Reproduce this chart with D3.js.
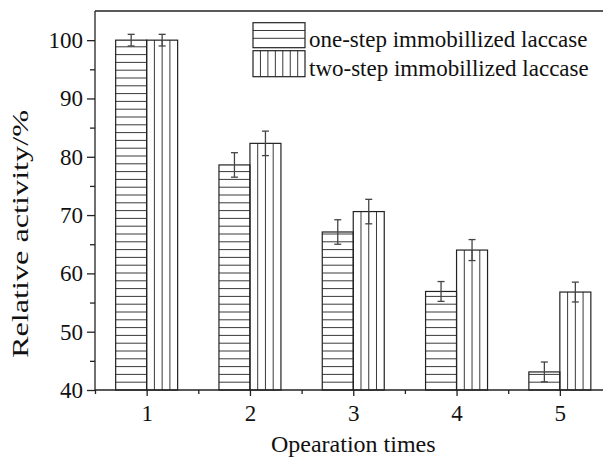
<!DOCTYPE html>
<html>
<head>
<meta charset="utf-8">
<script src="https://cdn.jsdelivr.net/npm/d3@7"></script>
<style>
  body { margin: 0; background: #fff; }
  svg text { font-family: "Liberation Serif", "Times New Roman", serif; fill: #111; }
</style>
</head>
<body>
<div id="chart"></div>
<script>
// data
const times = [1, 2, 3, 4, 5];
const oneStep = [100, 78.6, 67.1, 56.9, 43.1];
const oneStepErr = [1.0, 2.1, 2.1, 1.7, 1.7];
const twoStep = [100, 82.3, 70.6, 64.0, 56.8];
const twoStepErr = [1.0, 2.1, 2.1, 1.8, 1.7];
const seriesNames = ["one-step immobillized laccase", "two-step immobillized laccase"];
const yTicks = [40, 50, 60, 70, 80, 90, 100];

const width = 603;
const height = 457;

const svg = d3.select('#chart').append('svg')
    .attr('width', width)
    .attr('height', height);

const x = d3.scaleLinear().domain([0.5, 5.5]).range([95, 611.5]);
const y = d3.scaleLinear().domain([40, 105]).range([390, 11]);
const barW = x(0.8) - x(0.5);
const gap = 7.8;
const ink = "#222";

const bars = svg.append("g");

// one-step bars, horizontal hatching
times.forEach((t, i) => {
    const x0 = x(t) - barW, y0 = y(oneStep[i]), y1 = y(40);
    const g = bars.append("g");
    g.selectAll("line")
        .data(d3.range(y1 - gap, y0 + 1, -gap))
        .enter().append("line")
        .attr("x1", x0).attr("x2", x0 + barW)
        .attr("y1", d => d).attr("y2", d => d)
        .attr("stroke", "#3a3a3a").attr("stroke-width", 1);
    g.append("rect")
        .attr("x", x0).attr("y", y0)
        .attr("width", barW).attr("height", y1 - y0)
        .attr("fill", "none").attr("stroke", ink).attr("stroke-width", 1.2);
});

// two-step bars, vertical hatching
times.forEach((t, i) => {
    const x0 = x(t), y0 = y(twoStep[i]), y1 = y(40);
    const g = bars.append("g");
    g.selectAll("line")
        .data([1, 2, 3].map(k => x0 + k * barW / 4))
        .enter().append("line")
        .attr("x1", d => d).attr("x2", d => d)
        .attr("y1", y0).attr("y2", y1)
        .attr("stroke", "#3a3a3a").attr("stroke-width", 1);
    g.append("rect")
        .attr("x", x0).attr("y", y0)
        .attr("width", barW).attr("height", y1 - y0)
        .attr("fill", "none").attr("stroke", ink).attr("stroke-width", 1.2);
});

// error bars
function errBars(vals, errs, cx) {
    const g = svg.append("g").attr("stroke", "#444").attr("stroke-width", 1.3);
    vals.forEach((v, i) => {
        const xc = cx(times[i]);
        g.append("line").attr("x1", xc).attr("x2", xc)
            .attr("y1", y(v + errs[i])).attr("y2", y(v - errs[i]));
        [v + errs[i], v - errs[i]].forEach(e => {
            g.append("line").attr("x1", xc - 3.5).attr("x2", xc + 3.5)
                .attr("y1", y(e)).attr("y2", y(e));
        });
    });
}
errBars(oneStep, oneStepErr, t => x(t) - barW / 2);
errBars(twoStep, twoStepErr, t => x(t) + barW / 2);

// axes
const yAxis = svg.append("g").attr("transform", "translate(95,0)")
    .call(d3.axisLeft(y).tickValues(yTicks).tickSize(8).tickPadding(4));
svg.append("g").attr("transform", "translate(95,0)")
    .call(d3.axisLeft(y).tickValues(d3.range(45, 105, 10)).tickSize(5).tickFormat(""))
    .select(".domain").remove();
yAxis.select(".domain").attr("d", "M0," + y(40) + "V" + y(105));

const xAxis = svg.append("g").attr("transform", "translate(0,390)")
    .call(d3.axisBottom(x).tickValues(times).tickSize(6).tickPadding(9).tickFormat(d3.format("d")));
svg.append("g").attr("transform", "translate(0,390)")
    .call(d3.axisBottom(x).tickValues(d3.range(0.5, 5.6, 1)).tickSize(4).tickFormat(""))
    .select(".domain").remove();
xAxis.select(".domain").attr("d", "M95,0H603");

svg.selectAll(".tick text").attr("font-size", 23).attr("fill", "#111")
    .style("font-family", '"Liberation Serif", serif');
svg.selectAll(".domain, .tick line").attr("stroke", ink).attr("stroke-width", 1.3);

// top frame line
svg.append("line").attr("x1", 95).attr("x2", 603)
    .attr("y1", y(105)).attr("y2", y(105))
    .attr("stroke", ink).attr("stroke-width", 1.3);

// titles
svg.append("text")
    .attr("x", x(3)).attr("y", 452)
    .attr("text-anchor", "middle").attr("font-size", 24)
    .text("Opearation times");

svg.append("text")
    .attr("transform", "translate(28,234) rotate(-90)")
    .attr("text-anchor", "middle").attr("font-size", 24)
    .attr("textLength", 248).attr("lengthAdjust", "spacingAndGlyphs")
    .text("Relative activity/%");

// legend
const legend = svg.append("g");
const lx = 253, lw = 52;
const rows = [[22.7, 47.7], [50.7, 76.7]];
legend.selectAll("line.h")
    .data(d3.range(rows[0][0] + gap, rows[0][1] - 2, gap))
    .enter().append("line")
    .attr("x1", lx).attr("x2", lx + lw)
    .attr("y1", d => d).attr("y2", d => d)
    .attr("stroke", "#3a3a3a");
legend.selectAll("line.v")
    .data(d3.range(lx + 7.45, lx + lw - 2, 7.45))
    .enter().append("line")
    .attr("x1", d => d).attr("x2", d => d)
    .attr("y1", rows[1][0]).attr("y2", rows[1][1])
    .attr("stroke", "#3a3a3a");
rows.forEach((r, i) => {
    legend.append("rect")
        .attr("x", lx).attr("y", r[0])
        .attr("width", lw).attr("height", r[1] - r[0])
        .attr("fill", "none").attr("stroke", ink).attr("stroke-width", 1.2);
    legend.append("text")
        .attr("x", 309).attr("y", r[1] - 0.5)
        .attr("font-size", 23)
        .text(seriesNames[i]);
});
</script>
</body>
</html>
